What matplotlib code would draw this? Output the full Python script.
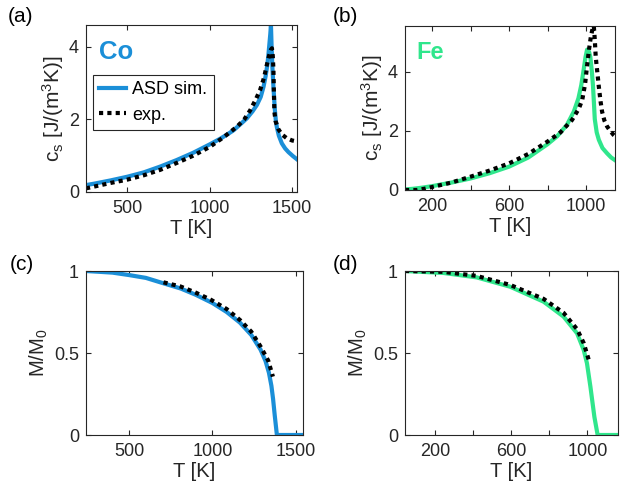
import matplotlib
matplotlib.use('Agg')
import matplotlib.pyplot as plt

plt.rcParams['font.family'] = ['Liberation Sans', 'DejaVu Sans']
plt.rcParams['mathtext.fontset'] = 'custom'
plt.rcParams['mathtext.rm'] = 'Liberation Sans'
plt.rcParams['mathtext.it'] = 'Liberation Sans'

# colours
co_color = '#1b8fd8'
fe_color = '#30e68c'

# (a) Co specific heat
co_cs_sim_t = [250, 300, 400, 500, 600, 700, 800, 900, 1000, 1065, 1105,
               1145, 1190, 1226, 1260, 1287, 1310, 1327, 1340, 1350, 1357,
               1363, 1368, 1372, 1376, 1380, 1387, 1395, 1402, 1408, 1420,
               1438, 1458, 1478, 1505, 1530]
co_cs_sim = [0.19, 0.23, 0.32, 0.42, 0.54, 0.70, 0.88, 1.08, 1.31, 1.47,
             1.58, 1.70, 1.88, 2.03, 2.22, 2.40, 2.62, 2.9, 3.2, 3.5, 3.8,
             4.1, 4.35, 4.6, 4.0, 3.5, 2.9, 2.3, 1.95, 1.78, 1.55, 1.34, 1.2,
             1.1, 0.99, 0.9]
co_cs_exp_t = [250, 300, 400, 500, 600, 700, 800, 900, 1000, 1085, 1166,
               1210, 1246, 1280, 1307, 1330, 1347, 1362, 1372, 1378, 1383,
               1387, 1390, 1393, 1400, 1418, 1440, 1468, 1500, 1530]
co_cs_exp = [0.1, 0.15, 0.25, 0.34, 0.46, 0.61, 0.8, 1.0, 1.24, 1.51, 1.8,
             2.0, 2.25, 2.55, 2.82, 3.15, 3.5, 3.78, 3.92, 3.96, 3.75, 3.37,
             2.7, 2.2, 1.95, 1.72, 1.58, 1.48, 1.42, 1.39]

# (b) Fe specific heat
fe_cs_sim_t = [60, 100, 150, 200, 300, 400, 500, 600, 700, 800, 850, 900,
               936, 960, 975, 988, 997, 1005, 1015, 1022, 1030, 1036, 1041,
               1045, 1055, 1066, 1085, 1109, 1130, 1152]
fe_cs_sim = [0.02, 0.04, 0.08, 0.13, 0.25, 0.39, 0.57, 0.79, 1.1, 1.55,
             1.82, 2.2, 2.65, 3.1, 3.55, 4.1, 4.5, 4.75, 4.68, 4.5, 4.0, 3.5,
             2.9, 2.4, 1.95, 1.7, 1.42, 1.24, 1.1, 1.0]
fe_cs_exp_t = [60, 120, 160, 200, 300, 400, 500, 600, 700, 800, 867, 927,
               962, 980, 995, 1005, 1015, 1025, 1035, 1040, 1045, 1050, 1058,
               1066, 1075, 1083, 1095, 1109, 1125, 1143, 1150]
fe_cs_exp = [0.0, 0.0, 0.04, 0.1, 0.25, 0.45, 0.66, 0.9, 1.22, 1.64, 1.95,
             2.37, 2.75, 3.05, 3.6, 4.2, 4.75, 5.2, 5.5, 5.55, 5.1, 4.5, 4.0,
             3.5, 3.0, 2.65, 2.35, 2.15, 2.0, 1.86, 1.82]

# (c) Co magnetisation
co_m_sim_t = [240, 400, 500, 600, 706, 810, 900, 1000, 1086, 1166, 1234,
              1290, 1320, 1340, 1355, 1365, 1375, 1388, 1545]
co_m_sim = [1.0, 0.99, 0.975, 0.958, 0.925, 0.893, 0.855, 0.805, 0.75,
            0.685, 0.61, 0.52, 0.45, 0.38, 0.3, 0.22, 0.12, 0.0, 0.0]
co_m_exp_t = [706, 810, 900, 994, 1086, 1166, 1234, 1290, 1336, 1364]
co_m_exp = [0.931, 0.905, 0.868, 0.823, 0.768, 0.701, 0.63, 0.539, 0.453,
            0.356]

# (d) Fe magnetisation
fe_m_sim_t = [42, 244, 419, 595, 770, 875, 946, 981, 998, 1016, 1037, 1054,
              1161]
fe_m_sim = [1.0, 0.988, 0.961, 0.904, 0.813, 0.722, 0.62, 0.518, 0.437,
            0.295, 0.11, 0.0, 0.0]
fe_m_exp_t = [42, 244, 419, 595, 770, 875, 946, 981, 1012]
fe_m_exp = [1.0, 0.995, 0.97, 0.915, 0.83, 0.745, 0.645, 0.56, 0.44]

W, H = 621, 494
fig = plt.figure(figsize=(W / 100, H / 100), dpi=100)


def px_axes(left, top, right, bottom):
    return fig.add_axes([left / W, 1 - bottom / H,
                         (right - left) / W, (bottom - top) / H])


def style(ax):
    for s in ax.spines.values():
        s.set_color('#262626')
        s.set_linewidth(0.8)
    ax.tick_params(direction='in', length=3.5, width=0.8, top=True,
                   right=True, colors='#262626', labelsize=13)
    ax.tick_params(axis='x', pad=6)
    ax.tick_params(axis='y', pad=5)


ax_a = px_axes(86, 25, 297, 192)
ax_b = px_axes(405, 26, 615, 190)
ax_c = px_axes(86, 271, 303, 435)
ax_d = px_axes(405, 271, 618, 435)

dot = (0, (1, 1))
lw_sim = 3.0
lw_exp = 3.0

# (a)
ax_a.plot(co_cs_sim_t, co_cs_sim, color=co_color, lw=lw_sim,
          label='ASD sim.')
ax_a.plot(co_cs_exp_t, co_cs_exp, color='black', lw=lw_exp, ls=dot,
          label='exp.')
ax_a.set_xlim(250, 1530)
ax_a.set_ylim(0, 4.6)
ax_a.set_xticks([500, 1000, 1500])
ax_a.set_yticks([0, 2, 4])
ax_a.text(0.062, 0.84, 'Co', transform=ax_a.transAxes, color=co_color,
          fontsize=18.5, fontweight='bold', va='center', ha='left')
leg = ax_a.legend(loc='upper left', bbox_to_anchor=(0.032, 0.70),
                  borderaxespad=0, fontsize=13, fancybox=False,
                  framealpha=1, edgecolor='#262626', handlelength=1.5,
                  handletextpad=0.35, borderpad=0.35, labelspacing=0.45)
leg.get_frame().set_linewidth(0.8)

# (b)
ax_b.plot(fe_cs_sim_t, fe_cs_sim, color=fe_color, lw=lw_sim)
ax_b.plot(fe_cs_exp_t, fe_cs_exp, color='black', lw=lw_exp, ls=dot)
ax_b.set_xlim(60, 1150)
ax_b.set_ylim(0, 5.55)
ax_b.set_xticks([200, 400, 600, 800, 1000])
ax_b.set_xticklabels(['200', '', '600', '', '1000'])
ax_b.set_yticks([0, 2, 4])
ax_b.text(0.055, 0.84, 'Fe', transform=ax_b.transAxes, color=fe_color,
          fontsize=17, fontweight='bold', va='center', ha='left')

# (c)
ax_c.plot(co_m_sim_t, co_m_sim, color=co_color, lw=lw_sim)
ax_c.plot(co_m_exp_t, co_m_exp, color='black', lw=lw_exp, ls=dot)
ax_c.set_xlim(240, 1545)
ax_c.set_ylim(0, 1)
ax_c.set_xticks([500, 1000, 1500])
ax_c.set_yticks([0, 0.5, 1])
ax_c.set_yticklabels(['0', '0.5', '1'])

# (d)
ax_d.plot(fe_m_sim_t, fe_m_sim, color=fe_color, lw=lw_sim)
ax_d.plot(fe_m_exp_t, fe_m_exp, color='black', lw=lw_exp, ls=dot)
ax_d.set_xlim(42, 1161)
ax_d.set_ylim(0, 1)
ax_d.set_xticks([200, 400, 600, 800, 1000])
ax_d.set_xticklabels(['200', '', '600', '', '1000'])
ax_d.set_yticks([0, 0.5, 1])
ax_d.set_yticklabels(['0', '0.5', '1'])

for ax in [ax_a, ax_b, ax_c, ax_d]:
    style(ax)
    ax.set_xlabel('T [K]', fontsize=14.5, color='#262626', labelpad=1)

for ax in [ax_a, ax_b]:
    ax.set_ylabel(r'c$_\mathregular{s}$ [J/(m$^\mathregular{3}$K)]',
                  fontsize=15, color='#262626', labelpad=2)
for ax in [ax_c, ax_d]:
    ax.set_ylabel(r'M/M$_\mathregular{0}$', fontsize=14.5, color='#262626',
                  labelpad=3)

# panel labels
for lab, x, y in [('(a)', 8, 17), ('(b)', 333, 17), ('(c)', 10, 265),
                  ('(d)', 333, 265)]:
    fig.text(x / W, 1 - y / H, lab, fontsize=15, va='center', ha='left',
             color='black')

fig.savefig('out.png', dpi=100)
